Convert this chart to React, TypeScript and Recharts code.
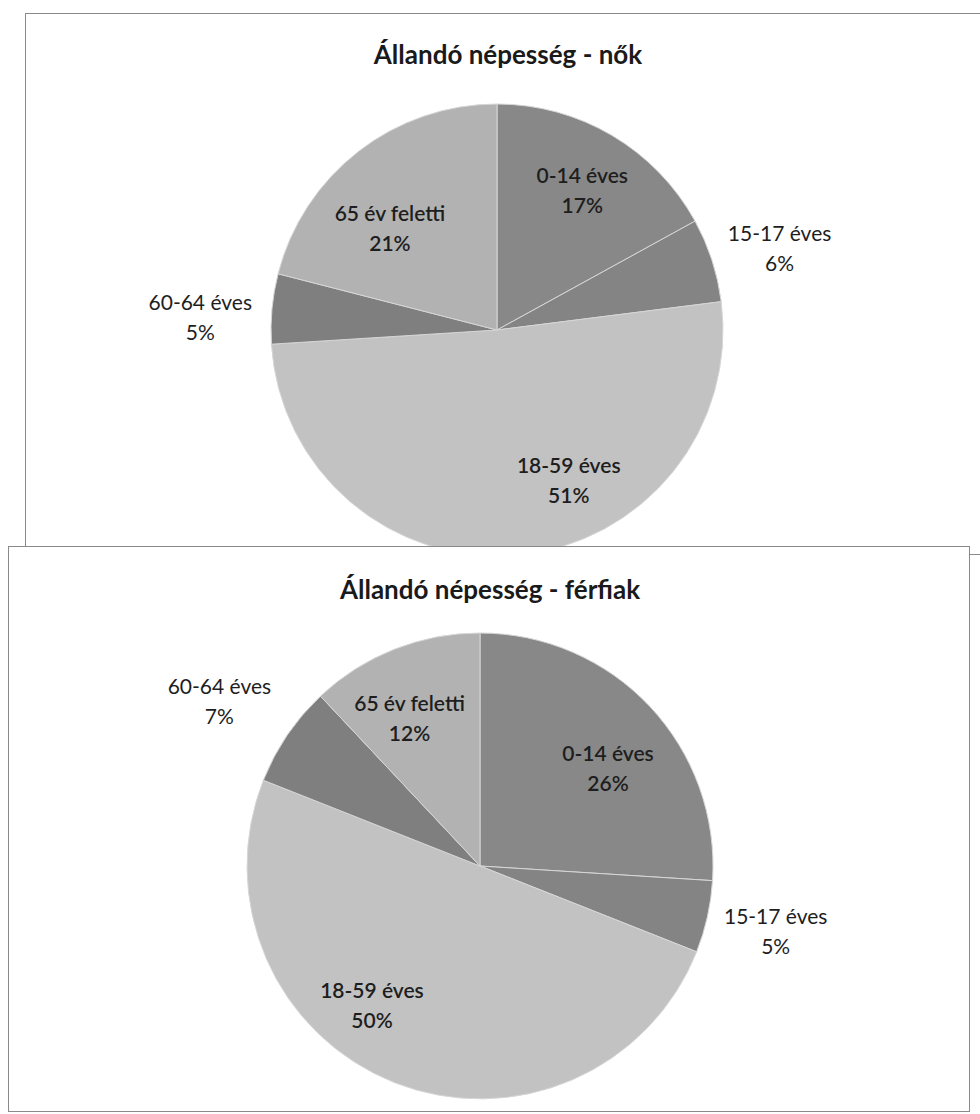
import { PieChart, Pie, Cell } from "recharts";

const categories = ["0-14 éves", "15-17 éves", "18-59 éves", "60-64 éves", "65 év feletti"];
const womenShares = [17, 6, 51, 5, 21];
const menShares = [26, 5, 50, 7, 12];

const sliceColors = ["#888888", "#848484", "#c2c2c2", "#7f7f7f", "#b2b2b2"];
const outsideLabel = [false, true, false, true, false];

// label placement: radius factor (of outer radius, or px beyond it) and angle nudge in degrees
const womenLabelTweak = [
  { r: 0.72, a: 1 },
  { r: 68, a: 2 },
  { r: 0.74, a: -20 },
  { r: 71, a: -3 },
  { r: 0.65, a: -9 },
];
const menLabelTweak = [
  { r: 0.69, a: 6 },
  { r: 70, a: 0 },
  { r: 0.76, a: 16 },
  { r: 75, a: -2 },
  { r: 0.7, a: -4 },
];

const RAD = Math.PI / 180;
const FONT = "Lato, 'Open Sans', sans-serif";

function makeLabel(tweak: { r: number; a: number }[]) {
  return (props: any) => {
    const { cx, cy, midAngle, outerRadius, index, value } = props;
    const t = tweak[index];
    const out = outsideLabel[index];
    const dist = out ? outerRadius + t.r : outerRadius * t.r;
    // recharts angle: 0 = 3 o'clock, counter-clockwise; nudge is clockwise
    const ang = (midAngle - t.a) * RAD;
    const x = cx + dist * Math.cos(ang);
    const y = cy - dist * Math.sin(ang);
    return (
      <text
        x={x}
        y={y}
        textAnchor="middle"
        fill="#1e1e1e"
        fontFamily={FONT}
        fontSize={21}
        fontWeight={out ? 400 : 600}
      >
        <tspan x={x} y={y - 8}>{categories[index]}</tspan>
        <tspan x={x} y={y + 22}>{value}%</tspan>
      </text>
    );
  };
}

function PieBox(props: {
  title: string;
  values: number[];
  tweak: { r: number; a: number }[];
  left: number;
  top: number;
  width: number;
  height: number;
  titleTop: number;
  titleCenter: number;
  cx: number;
  cy: number;
  radius: number;
  z: number;
}) {
  const data = categories.map((name, i) => ({ name, value: props.values[i] }));
  return (
    <div
      style={{
        position: "absolute",
        left: props.left,
        top: props.top,
        width: props.width,
        height: props.height,
        border: "1.5px solid #8a8a8a",
        background: "#fff",
        zIndex: props.z,
      }}
    >
      <div
        style={{
          position: "absolute",
          top: props.titleTop,
          left: props.titleCenter - 300,
          width: 600,
          textAlign: "center",
          fontFamily: FONT,
          fontWeight: 700,
          fontSize: 26,
          color: "#1a1a1a",
        }}
      >
        {props.title}
      </div>
      <div style={{ position: "absolute", left: 0, top: 0 }}>
        <PieChart
          width={props.width}
          height={props.height + 20}
          margin={{ top: 0, right: 0, bottom: 0, left: 0 }}
          style={{ overflow: "visible" }}
        >
          <Pie
            data={data}
            dataKey="value"
            nameKey="name"
            cx={props.cx}
            cy={props.cy}
            outerRadius={props.radius}
            startAngle={90}
            endAngle={-270}
            stroke="#d6d6d6"
            strokeWidth={1}
            labelLine={false}
            label={makeLabel(props.tweak)}
            isAnimationActive={false}
          >
            {data.map((d, i) => (
              <Cell key={d.name} fill={sliceColors[i]} />
            ))}
          </Pie>
        </PieChart>
      </div>
    </div>
  );
}

export default function App() {
  return (
    <div
      style={{
        position: "absolute",
        left: 0,
        top: 0,
        width: 980,
        height: 1114,
        overflow: "hidden",
        background: "#fff",
      }}
    >
      <PieBox
        title="Állandó népesség - nők"
        values={womenShares}
        tweak={womenLabelTweak}
        left={25}
        top={13}
        width={970}
        height={540}
        titleTop={24}
        titleCenter={482}
        cx={471}
        cy={316}
        radius={226}
        z={1}
      />
      <PieBox
        title="Állandó népesség - férfiak"
        values={menShares}
        tweak={menLabelTweak}
        left={8}
        top={546}
        width={960}
        height={564}
        titleTop={26}
        titleCenter={481}
        cx={471}
        cy={319}
        radius={233}
        z={2}
      />
    </div>
  );
}
